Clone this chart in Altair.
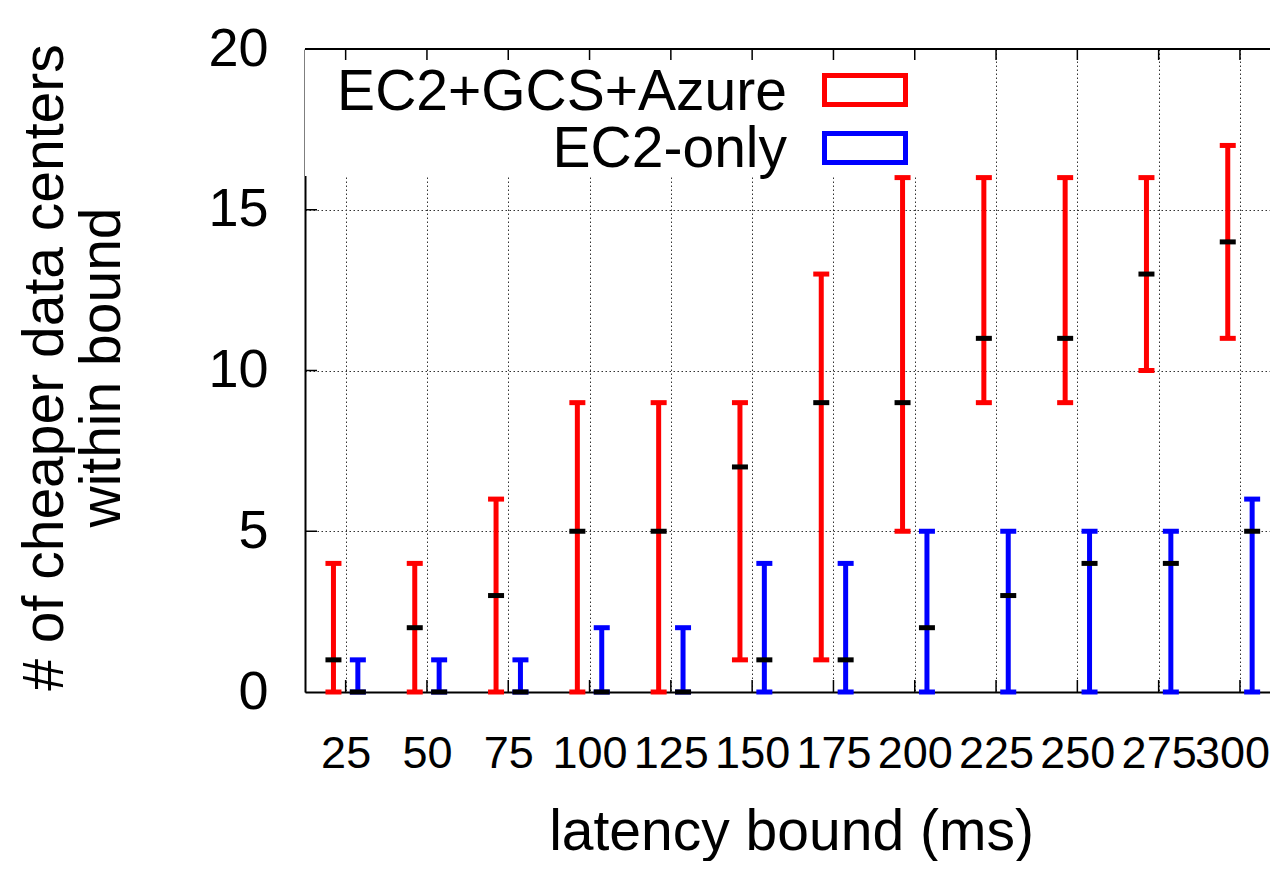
import altair as alt
import pandas as pd

# ---- data ----
latency = [25, 50, 75, 100, 125, 150, 175, 200, 225, 250, 275, 300]
series = ["EC2+GCS+Azure", "EC2-only"]
colors = ["#ff0000", "#0000ff"]
offsets = [-0.15, 0.15]

multi_min = [0, 0, 0, 0, 0, 1, 1, 5, 9, 9, 10, 11]
multi_med = [1, 2, 3, 5, 5, 7, 9, 9, 11, 11, 13, 14]
multi_max = [4, 4, 6, 9, 9, 9, 13, 16, 16, 16, 16, 17]

ec2_min = [0, 0, 0, 0, 0, 0, 0, 0, 0, 0, 0, 0]
ec2_med = [0, 0, 0, 0, 0, 1, 1, 2, 3, 4, 4, 5]
ec2_max = [1, 1, 1, 2, 2, 4, 4, 5, 5, 5, 5, 6]

y_ticks = [0, 5, 10, 15, 20]

rows = []
for s, off, mins, meds, maxs in [
    (series[0], offsets[0], multi_min, multi_med, multi_max),
    (series[1], offsets[1], ec2_min, ec2_med, ec2_max),
]:
    for i, (lat, lo, md, hi) in enumerate(zip(latency, mins, meds, maxs)):
        rows.append({"series": s, "pos": i + 1 + off, "lo": lo, "med": md, "hi": hi})
df = pd.DataFrame(rows)
idx_df = pd.DataFrame({"idx": list(range(1, len(latency) + 1))})
ytick_df = pd.DataFrame({"v": [5, 10, 15]})

W, H = 965, 643
FONT = "Liberation Sans"
XMAX = 0.5 + W / 81.3

xscale = alt.Scale(domain=[0.5, XMAX], nice=False, zero=False)
yscale = alt.Scale(domain=[0, 20], nice=False)
cscale = alt.Scale(domain=series, range=colors)

xaxis = alt.Axis(
    values=list(range(1, 13)),
    labelExpr="datum.value * 25",
    labelFont=FONT, labelFontSize=45, labelColor="black",
    labelBaseline="alphabetic", labelPadding=75, ticks=False, tickSize=0,
    labelFlush=False, labelOverlap=False,
    labelOffset={"condition": {"test": "datum.value == 12", "value": -8}, "value": 0},
    grid=True, gridDash=[1.5, 2.5], gridColor="#333333", gridWidth=1,
    domain=True, domainColor="black", domainWidth=2,
    title="latency bound (ms)", titleFont=FONT, titleFontSize=57,
    titleFontWeight="normal", titleColor="black",
    titleX=486, titleY=157, titleBaseline="alphabetic", titleAlign="center",
)
yaxis = alt.Axis(
    values=y_ticks,
    labelFont=FONT, labelFontSize=54, labelColor="black",
    labelPadding=37, ticks=False, tickSize=0, labelBaseline="middle",
    grid=True, gridDash=[1.5, 2.5], gridColor="#333333", gridWidth=1,
    domain=True, domainColor="black", domainWidth=2,
    title=["# of cheaper data centers", "within bound"],
    titleFont=FONT, titleFontSize=57, titleFontWeight="normal", titleColor="black",
    titleAngle=270, titleAlign="center", titleBaseline="alphabetic",
    titleLineHeight=57, titleX=-243, titleY=318,
)

base = alt.Chart(df)

# legend backdrop (covers grid like the original key box)
backdrop = alt.Chart(pd.DataFrame({"a": [0]})).mark_rect(color="white").encode(
    x=alt.datum(0.5, scale=xscale, axis=xaxis, type="quantitative"),
    x2=alt.datum(8.1),
    y=alt.datum(16.05, scale=yscale, axis=yaxis, type="quantitative"),
    y2=alt.datum(20),
)

bars = base.mark_rule(strokeWidth=5, opacity=1).encode(
    x=alt.X("pos:Q", scale=xscale, axis=xaxis),
    y=alt.Y("lo:Q", scale=yscale, axis=yaxis),
    y2="hi:Q",
    color=alt.Color("series:N", scale=cscale, legend=None),
)
cap_lo = base.mark_tick(orient="horizontal", size=16, thickness=5, opacity=1).encode(
    x="pos:Q", y="lo:Q", color=alt.Color("series:N", scale=cscale, legend=None)
)
cap_hi = base.mark_tick(orient="horizontal", size=16, thickness=5, opacity=1).encode(
    x="pos:Q", y="hi:Q", color=alt.Color("series:N", scale=cscale, legend=None)
)
med = base.mark_tick(orient="horizontal", size=16, thickness=5, color="black", opacity=1).encode(
    x="pos:Q", y="med:Q"
)

# frame top line and inward ticks
top_line = alt.Chart(pd.DataFrame({"a": [0]})).mark_rule(color="black", strokeWidth=2).encode(
    x=alt.value(0), x2=alt.value(W), y=alt.value(0)
)
bottom_ticks = alt.Chart(idx_df).mark_rule(color="black", strokeWidth=1.5).encode(
    x="idx:Q", y=alt.value(H), y2=alt.value(H - 12)
)
top_ticks = alt.Chart(idx_df).mark_rule(color="black", strokeWidth=1.5).encode(
    x="idx:Q", y=alt.value(0), y2=alt.value(11)
)
left_ticks = alt.Chart(ytick_df).mark_rule(color="black", strokeWidth=1.5).encode(
    y="v:Q", x=alt.value(0), x2=alt.value(12)
)

# manual key (text right-aligned, outlined box at right)
key_layers = []
key_text_y = [61, 118]
key_box_y = [26.5, 84.5]
for s, c, ty, by in zip(series, colors, key_text_y, key_box_y):
    key_layers.append(
        alt.Chart(pd.DataFrame({"label": [s]})).mark_text(
            font=FONT, fontSize=57, align="right", baseline="alphabetic", color="black"
        ).encode(text="label:N", x=alt.value(482), y=alt.value(ty))
    )
    key_layers.append(
        alt.Chart(pd.DataFrame({"label": [s]})).mark_rect(
            fill="white", stroke=c, strokeWidth=5
        ).encode(x=alt.value(519.5), x2=alt.value(600.5), y=alt.value(by), y2=alt.value(by + 29))
    )

chart = alt.layer(
    backdrop, bars, cap_lo, cap_hi, med, top_line, bottom_ticks, top_ticks, left_ticks,
    *key_layers,
).properties(
    width=W, height=H,
    autosize=alt.AutoSizeParams(type="none"),
    padding={"left": 297, "top": 41, "right": 0, "bottom": 169},
    background="white",
).configure_view(stroke=None)

chart.save("out.html", embed_options={"renderer": "svg", "actions": False})
